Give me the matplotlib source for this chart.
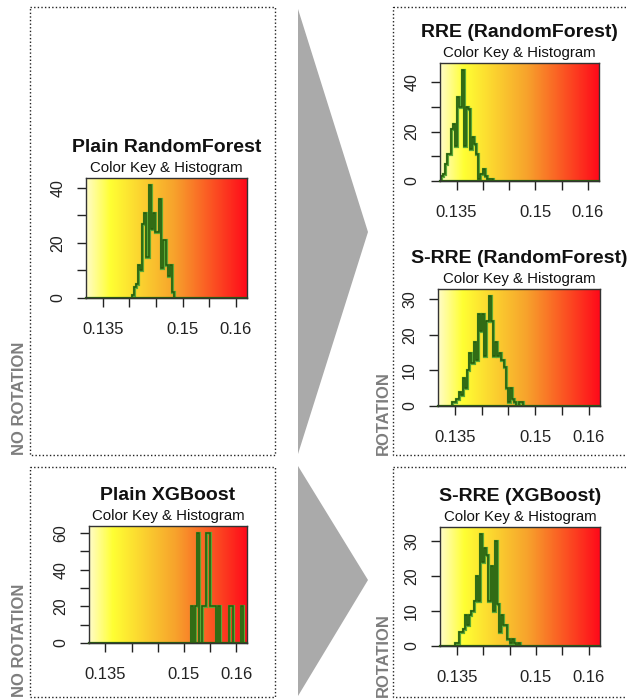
import numpy as np
import matplotlib.pyplot as plt
from matplotlib.colors import LinearSegmentedColormap
from matplotlib.patches import Rectangle, Polygon

plt.rcParams['font.family'] = ['Liberation Sans', 'DejaVu Sans']

# histogram counts, all bins 0.0004 wide
bin_w = 0.0004

rf_plain_start = 0.1404
rf_plain = [1, 4, 5, 12, 10, 27, 31, 15, 41, 25, 31, 24, 24, 36, 11, 21, 12, 8, 12, 2]

rre_rf_start = 0.13195
rre_rf = [2, 3, 7, 11, 11, 21, 23, 14, 34, 30, 45, 14, 30, 29, 13, 18, 15, 11, 1, 3, 5, 2, 1, 1, 1]

srre_rf_start = 0.1345
srre_rf = [1, 1, 2, 4, 3, 8, 5, 10, 15, 12, 18, 13, 26, 21, 26, 14, 24, 31, 24, 14,
           18, 14, 15, 13, 11, 5, 1, 5, 2, 1, 0, 1, 1]

xgb_plain_start = 0.1514
xgb_plain = [20, 0, 20, 60, 0, 20, 20, 60, 60, 20, 20, 20, 0, 20, 0, 0, 0, 0,
             20, 20, 0, 0, 0, 0, 20]

srre_xgb_start = 0.1346
srre_xgb = [1, 1, 4, 4, 5, 9, 6, 9, 10, 13, 20, 13, 32, 24, 28, 26, 13, 23, 10, 30,
            12, 4, 9, 6, 6, 2, 1, 2, 1, 0, 1]

x_ticks = [0.135, 0.14, 0.145, 0.15, 0.155, 0.16]
x_labels = ['0.135', '', '', '0.15', '', '0.16']
x_min, x_max = 0.13185, 0.1621

# gradient of the colour key
key_cmap = LinearSegmentedColormap.from_list(
    'key', [(0, '#fffcc8'), (0.15, '#ffff33'), (0.55, '#f7a22c'), (1, '#ff0a1a')])

W, H = 627, 700
fig = plt.figure(figsize=(W / 100, H / 100), dpi=100)

# background layer in pixel coordinates: dotted frames, arrows, labels
bg = fig.add_axes([0, 0, 1, 1])
bg.set_xlim(0, W)
bg.set_ylim(H, 0)
bg.axis('off')

dots = (0, (1, 1.6))
for (x0, y0, x1, y1) in [(30, 7, 275, 455), (30, 467, 275, 697),
                         (393, 7, 650, 455), (393, 467, 650, 697)]:
    bg.add_patch(Rectangle((x0, y0), x1 - x0, y1 - y0, fill=False,
                           ec='#222222', lw=1, ls=dots))

bg.add_patch(Polygon([(298, 9), (368, 232), (298, 454)], color='#aaaaaa', lw=0))
bg.add_patch(Polygon([(298, 466), (368, 580), (298, 696)], color='#aaaaaa', lw=0))

lab = dict(rotation=90, ha='center', va='bottom', fontsize=12,
           fontweight='bold', color='#7d7d7d')
bg.text(20, 455, 'NO ROTATION', **lab)
bg.text(20, 697, 'NO ROTATION', **lab)
bg.text(383, 455, 'ROTATION', **lab)
bg.text(383, 697, 'ROTATION', **lab)

panels = [
    ('Plain RandomForest', rf_plain_start, rf_plain, [0, 10, 20, 30, 40],
     ['0', '', '20', '', '40'], (86, 178, 247, 298)),
    ('RRE (RandomForest)', rre_rf_start, rre_rf, [0, 10, 20, 30, 40],
     ['0', '', '20', '', '40'], (440, 63, 599, 181)),
    ('S-RRE (RandomForest)', srre_rf_start, srre_rf, [0, 10, 20, 30],
     ['0', '10', '20', '30'], (438, 289, 600, 406)),
    ('Plain XGBoost', xgb_plain_start, xgb_plain, [0, 10, 20, 30, 40, 50, 60],
     ['0', '', '20', '', '40', '', '60'], (89, 526, 247, 643)),
    ('S-RRE (XGBoost)', srre_xgb_start, srre_xgb, [0, 10, 20, 30],
     ['0', '10', '20', '30'], (440, 527, 600, 646)),
]

for title, start, counts, yt, yl, (x0, y0, x1, y1) in panels:
    ax = fig.add_axes([x0 / W, 1 - y1 / H, (x1 - x0) / W, (y1 - y0) / H])
    top = max(counts) * 1.063
    ax.imshow(np.linspace(0, 1, 256)[None, :], extent=[x_min, x_max, 0, top],
              aspect='auto', cmap=key_cmap, interpolation='bilinear')
    edges = start + bin_w * np.arange(len(counts) + 1)
    ax.plot([x_min, x_max], [0, 0], color='#2a5f0e', lw=1.6, clip_on=False)
    ax.stairs(counts, edges, baseline=0, color='#5aa836', lw=2.3)
    ax.stairs(counts, edges, baseline=0, color='#265a0b', lw=1.1)
    ax.set_xlim(x_min, x_max)
    ax.set_ylim(0, top)

    ax.set_xticks(x_ticks)
    ax.set_xticklabels(x_labels)
    ax.set_yticks(yt)
    ax.set_yticklabels(yl)
    ax.tick_params(axis='both', direction='out', length=6.5, width=1,
                   color='#222222', labelcolor='#222222')
    ax.tick_params(axis='x', pad=11, labelsize=12)
    ax.tick_params(axis='y', pad=8.5, labelsize=11.5)
    plt.setp(ax.get_yticklabels(), rotation=90, va='center')
    for s in ax.spines.values():
        s.set_color('#333333')
        s.set_linewidth(1)

    ax.annotate(title, xy=(0.5, 1), xycoords='axes fraction', xytext=(0, 22),
                textcoords='offset points', ha='center', va='center',
                fontsize=14, fontweight='bold', color='#111111')
    ax.annotate('Color Key & Histogram', xy=(0.5, 1), xycoords='axes fraction',
                xytext=(0, 7.5), textcoords='offset points', ha='center',
                va='center', fontsize=10.8, color='#111111')

fig.savefig('out.png', dpi=100)
